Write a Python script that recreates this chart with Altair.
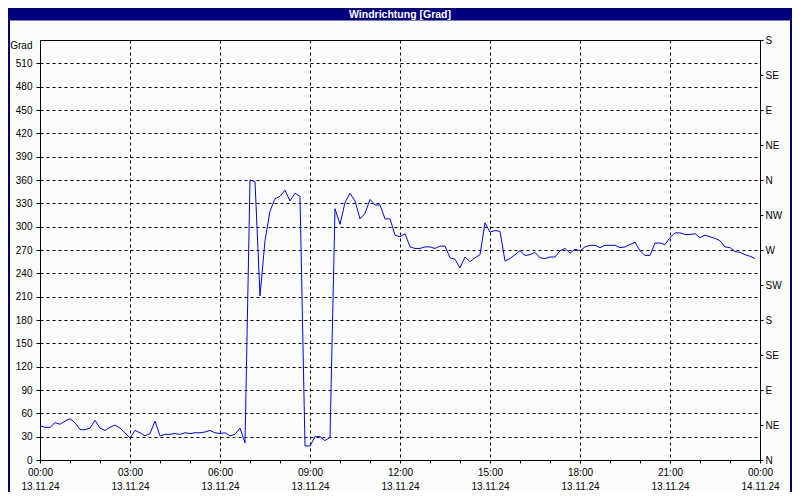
import altair as alt
import pandas as pd

# ---- data ----
direction_deg = [
    44, 42, 42, 48, 46, 50, 53, 48, 39, 39,
    41, 51, 41, 38, 42, 45, 41, 35, 28, 38,
    35, 31, 34, 50, 31, 33, 33, 34, 33, 35,
    34, 35, 35, 36, 38, 35, 34, 35, 31, 33,
    41, 22, 360, 358, 211, 282, 320, 336, 339, 347,
    333, 343, 339, 18, 18, 30, 30, 25, 29, 323,
    303, 331, 343, 333, 310, 317, 335, 328, 328, 310,
    310, 289, 287, 291, 274, 272, 272, 274, 274, 272,
    275, 275, 260, 258, 247, 261, 255, 260, 264, 305,
    293, 295, 294, 256, 259, 264, 269, 263, 264, 267,
    260, 259, 261, 261, 269, 272, 266, 271, 269, 274,
    276, 276, 273, 276, 276, 276, 273, 274, 277, 280,
    269, 263, 263, 279, 279, 277, 286, 292, 292, 290,
    290, 291, 286, 289, 287, 285, 282, 274, 273, 268,
    267, 264, 262, 259,
]
sample_step_min = 10
hours = [k * sample_step_min / 60 for k in range(len(direction_deg))]

x_time_labels = ["00:00", "03:00", "06:00", "09:00", "12:00", "15:00", "18:00", "21:00", "00:00"]
x_date_labels = ["13.11.24", "13.11.24", "13.11.24", "13.11.24", "13.11.24",
                 "13.11.24", "13.11.24", "13.11.24", "14.11.24"]
x_tick_hours = list(range(0, 25))
y_left_values = list(range(0, 540, 30))
compass_values = list(range(0, 541, 45))
compass_labels = ["N", "NE", "E", "SE", "S", "SW", "W", "NW", "N", "NE", "E", "SE", "S"]
chart_title = "Windrichtung [Grad]"
y_title = "Grad"

FONT = "Liberation Sans"
NAVY = "#000080"
BG = "#fbfdfb"

df = pd.DataFrame({"h": hours, "deg": direction_deg})
one = pd.DataFrame({"t": [chart_title]})


def js_arr(a):
    return "[" + ",".join("'" + s + "'" for s in a) + "]"


x_label_expr = (
    f"datum.value % 3 == 0 ? [{js_arr(x_time_labels)}[datum.value/3], "
    f"{js_arr(x_date_labels)}[datum.value/3]] : ''"
)
compass_expr = f"{js_arr(compass_labels)}[round(datum.value/45)]"

x_scale = alt.Scale(domain=[0, 24], nice=False, zero=False)
y_scale = alt.Scale(domain=[0, 540], nice=False, zero=True)

line = alt.Chart(df).mark_line(color="#0000ff", strokeWidth=1).encode(
    x=alt.X(
        "h:Q", scale=x_scale,
        axis=alt.Axis(
            values=x_tick_hours, labelExpr=x_label_expr, title=None,
            grid=True, gridColor="black", gridDash=[3, 3],
            gridOpacity={"condition": {"test": "datum.value % 3 == 0 && datum.value > 0 && datum.value < 24", "value": 1}, "value": 0},
            tickSize=3, tickColor="black", domainColor="black",
            labelFont=FONT, labelFontSize=10, labelColor="black",
            labelPadding=4, labelLineHeight=14.5, labelFlush=False, labelOverlap=False,
        ),
    ),
    y=alt.Y(
        "deg:Q", scale=y_scale,
        axis=alt.Axis(
            values=y_left_values, title=y_title, titleAngle=0, titleX=-8, titleY=8,
            titleAlign="right", titleBaseline="alphabetic", titleFont=FONT,
            titleFontSize=10, titleFontWeight="normal", titleColor="black",
            grid=True, gridColor="black", gridDash=[3, 3],
            tickSize=4, tickColor="black", domainColor="black",
            labelFont=FONT, labelFontSize=10, labelColor="black", labelPadding=4,
            labelFlush=False, labelOverlap=False,
        ),
    ),
)

right_axis = alt.Chart(df).mark_point(opacity=0).encode(
    x=alt.value(0),
    y=alt.Y(
        "deg:Q", scale=y_scale,
        axis=alt.Axis(
            orient="right", values=compass_values, labelExpr=compass_expr, title=None,
            grid=False, tickSize=3, tickColor="black", domainColor="black",
            labelFont=FONT, labelFontSize=10, labelColor="black", labelPadding=2,
            labelFlush=False, labelOverlap=False,
        ),
    ),
)

title_bar = alt.Chart(one).mark_rect(color=NAVY).encode(
    x=alt.value(-32), x2=alt.value(752), y=alt.value(-32), y2=alt.value(-19.5)
)
title_text = alt.Chart(one).mark_text(
    color="white", font=FONT, fontSize=10.5, fontWeight="bold", align="center", baseline="middle"
).encode(text="t:N", x=alt.value(360), y=alt.value(-25.5))

left_border = alt.Chart(one).mark_rule(color=NAVY, strokeWidth=2).encode(
    x=alt.value(-31), y=alt.value(-32), y2=alt.value(452)
)
right_border = alt.Chart(one).mark_rule(color=NAVY, strokeWidth=2).encode(
    x=alt.value(751), y=alt.value(-32), y2=alt.value(452)
)

chart = (
    alt.layer(line, right_axis, title_bar, title_text, left_border, right_border)
    .resolve_axis(y="independent")
    .properties(
        width=720, height=420, autosize="none",
        padding={"left": 32, "top": 32, "right": 32, "bottom": 32},
        background=BG,
    )
    .configure_view(stroke="black", strokeWidth=1, fill=BG)
)

chart.save("out.html", embed_options={"renderer": "svg", "actions": False})
